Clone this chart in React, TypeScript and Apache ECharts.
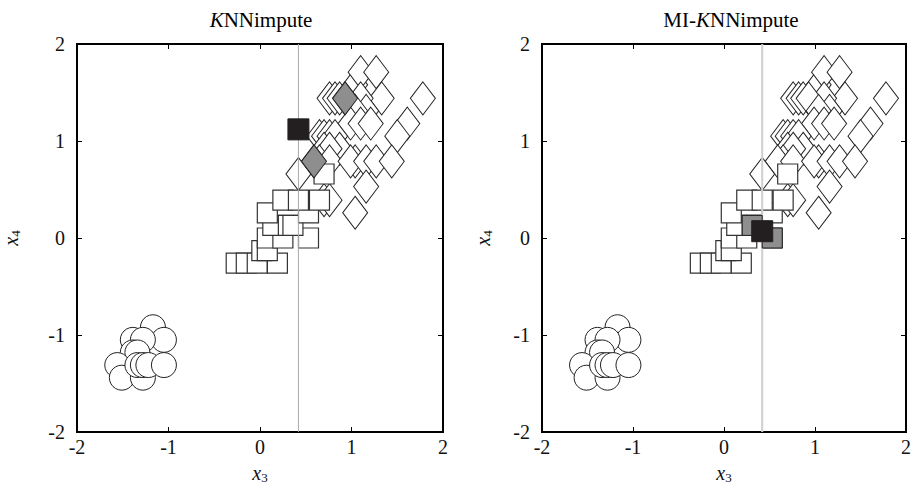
import React, { useEffect, useRef } from "react";
import * as echarts from "echarts";

const setosaCircles: [number, number][] = [
  [-1.17, -0.92], [-1.05, -1.05], [-1.39, -1.05], [-1.28, -1.05],
  [-1.39, -1.18], [-1.34, -1.18], [-1.56, -1.31], [-1.51, -1.44],
  [-1.28, -1.44], [-1.34, -1.31], [-1.28, -1.31], [-1.22, -1.31],
  [-1.05, -1.31],
];

const virginicaDiamonds: [number, number][] = [
  [1.04, 1.58], [1.1, 1.71], [1.27, 1.71], [1.78, 1.44], [1.33, 1.44],
  [1.1, 1.44], [0.76, 1.44], [0.82, 1.44], [0.87, 1.44], [0.93, 1.44],
  [1.16, 1.31], [1.04, 1.31], [0.99, 1.18], [1.1, 1.18], [1.21, 1.18],
  [1.61, 1.18], [1.5, 1.05], [0.65, 1.05], [0.7, 1.05], [0.76, 1.05],
  [0.82, 1.05], [0.87, 0.92], [0.7, 0.92], [0.76, 0.92], [1.04, 0.79],
  [0.65, 0.79], [0.59, 0.79], [0.76, 0.79], [0.99, 0.79], [1.16, 0.79],
  [1.27, 0.79], [1.44, 0.79], [0.42, 0.66], [1.16, 0.53], [0.7, 0.39],
  [0.76, 0.39], [1.04, 0.26],
];

const versicolorSquares: [number, number][] = [
  [-0.26, -0.26], [-0.15, -0.26], [-0.03, -0.26], [0.19, -0.26],
  [0.02, -0.13], [0.08, -0.13], [0.08, 0.0], [0.25, 0.0], [0.53, 0.0],
  [0.14, 0.13], [0.31, 0.13], [0.36, 0.13], [0.08, 0.26], [0.53, 0.26],
  [0.25, 0.39], [0.42, 0.39], [0.65, 0.39], [0.7, 0.66],
];

const observedX3 = 0.42;

// KNNimpute panel
const knnNeighbors: [number, number][] = [[0.93, 1.44], [0.59, 0.79]];
const knnImputed: [number, number][] = [[0.42, 1.12]];
// MI-KNNimpute panel
const miNeighbors: [number, number][] = [[0.31, 0.13], [0.53, 0.0]];
const miImputed: [number, number][] = [[0.42, 0.07]];

const panelTitles = ["KNNimpute", "MI-KNNimpute"];
const axisMin = -2;
const axisMax = 2;
const axisStep = 1;

const FONT = "'Liberation Serif', 'Times New Roman', serif";

export default function App() {
  const ref = useRef<HTMLDivElement>(null);

  useEffect(() => {
    if (!ref.current) return;
    const chart = echarts.init(ref.current, null, { renderer: "svg" });

    const grids = [
      { left: 72, top: 44, width: 371, height: 389 },
      { left: 542, top: 44, width: 371, height: 389 },
    ];
    const yNameGaps = [55, 48];
    const lineColors = ["#a9a9a9", "#cfcfcf"];
    const lineWidths = [1, 2];
    const neighbors = [knnNeighbors, miNeighbors];
    const imputed = [knnImputed, miImputed];
    const neighborSymbols = ["diamond", "rect"];
    const neighborSizes: any[] = [[25, 33], 20];

    const xAxes: any[] = [];
    const yAxes: any[] = [];
    const series: any[] = [];

    const nameRich = {
      i: { fontFamily: FONT, fontStyle: "italic", fontSize: 20, color: "#111" },
      s: { fontFamily: FONT, fontSize: 13, color: "#111", padding: [9, 0, 0, 0] },
    };

    grids.forEach((g, i) => {
      const common = {
        type: "value",
        gridIndex: i,
        min: axisMin,
        max: axisMax,
        interval: axisStep,
        axisLine: { show: false, onZero: false },
        splitLine: { show: false },
        axisTick: { show: true, inside: true, length: 5, lineStyle: { color: "#000", width: 1 } },
      };
      xAxes.push({
        ...common,
        position: "bottom",
        axisLabel: { fontFamily: FONT, fontSize: 20, color: "#111", margin: 5 },
        name: "{i|x}{s|3}",
        nameLocation: "middle",
        nameGap: 30,
        nameTextStyle: { rich: nameRich },
      });
      xAxes.push({ ...common, position: "top", axisLabel: { show: false } });
      yAxes.push({
        ...common,
        position: "left",
        axisLabel: { fontFamily: FONT, fontSize: 20, color: "#111", margin: 12 },
        name: "{i|x}{s|4}",
        nameLocation: "middle",
        nameGap: yNameGaps[i],
        nameTextStyle: { rich: nameRich },
      });
      yAxes.push({ ...common, position: "right", axisLabel: { show: false } });

      const ax = { xAxisIndex: 2 * i, yAxisIndex: 2 * i };
      series.push({
        type: "scatter", ...ax, z: 2, symbol: "circle", symbolSize: 25,
        itemStyle: { color: "#fff", borderColor: "#222", borderWidth: 1, opacity: 1 },
        data: setosaCircles, silent: true,
      });
      series.push({
        type: "scatter", ...ax, z: 2, symbol: "diamond", symbolSize: [25, 33],
        itemStyle: { color: "#fff", borderColor: "#222", borderWidth: 1, opacity: 1 },
        data: virginicaDiamonds, silent: true,
      });
      series.push({
        type: "scatter", ...ax, z: 2, symbol: "rect", symbolSize: 20,
        itemStyle: { color: "#fff", borderColor: "#333", borderWidth: 1.2, opacity: 1 },
        data: versicolorSquares, silent: true,
      });
      series.push({
        type: "line", ...ax, z: 3, symbol: "none",
        lineStyle: { color: lineColors[i], width: lineWidths[i] },
        data: [[observedX3, axisMin], [observedX3, axisMax]], silent: true,
      });
      series.push({
        type: "scatter", ...ax, z: 4, symbol: neighborSymbols[i], symbolSize: neighborSizes[i],
        itemStyle: { color: "#8e8e8e", borderColor: "#222", borderWidth: 1, opacity: 1 },
        data: neighbors[i], silent: true,
      });
      series.push({
        type: "scatter", ...ax, z: 5, symbol: "rect", symbolSize: 21,
        itemStyle: { color: "#231f20", borderColor: "#231f20", borderWidth: 1, opacity: 1 },
        data: imputed[i], silent: true,
      });
    });

    const titleRich = {
      k: { fontFamily: FONT, fontStyle: "italic", fontSize: 21, color: "#111" },
      n: { fontFamily: FONT, fontSize: 21, color: "#111" },
    };

    chart.setOption({
      animation: false,
      backgroundColor: "#fff",
      grid: grids.map((g) => ({
        ...g,
        show: true,
        borderColor: "#000",
        borderWidth: 2,
        backgroundColor: "transparent",
        containLabel: false,
      })),
      xAxis: xAxes,
      yAxis: yAxes,
      series,
      graphic: [
        {
          type: "text", x: 261, y: 20,
          style: { text: "{k|K}{n|NNimpute}", rich: titleRich, align: "center", verticalAlign: "middle" },
        },
        {
          type: "text", x: 731, y: 20,
          style: { text: "{n|MI-}{k|K}{n|NNimpute}", rich: titleRich, align: "center", verticalAlign: "middle" },
        },
      ],
    });

    return () => chart.dispose();
  }, []);

  return (
    <div
      ref={ref}
      style={{ position: "absolute", left: 0, top: 0, width: 914, height: 489, background: "#fff" }}
    />
  );
}
